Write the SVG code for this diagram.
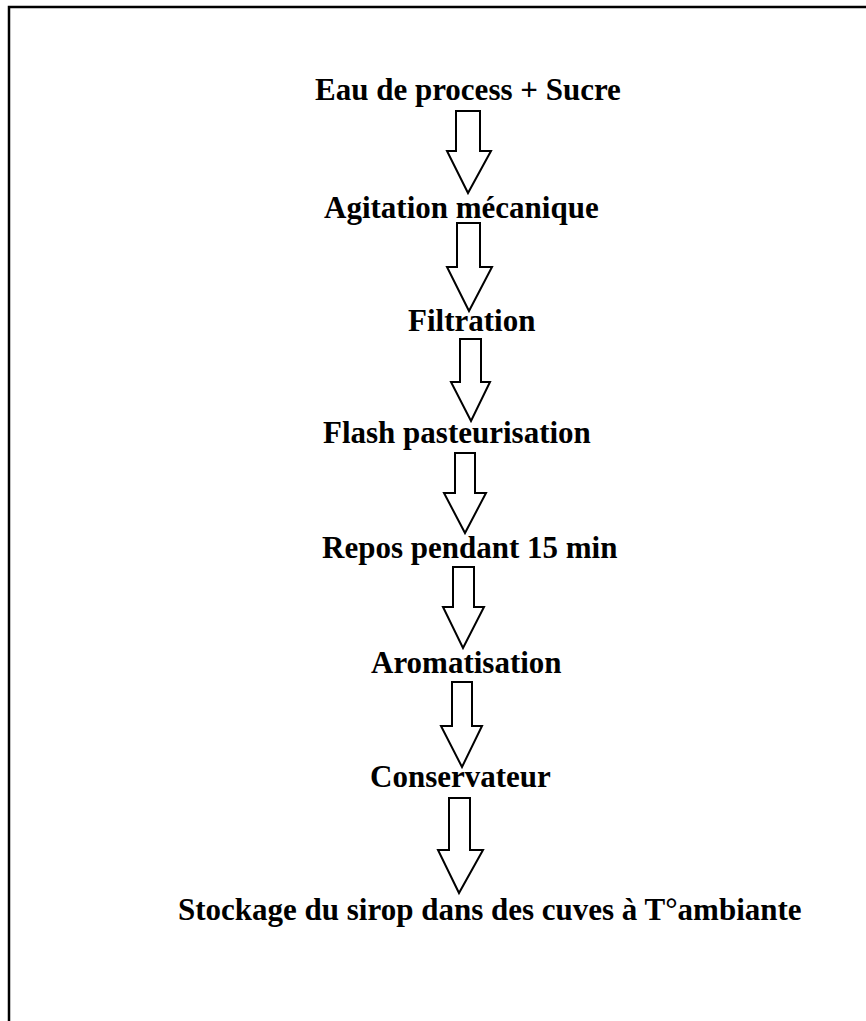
<svg xmlns="http://www.w3.org/2000/svg" width="866" height="1021" viewBox="0 0 866 1021">
<style>
.t{font-family:"Liberation Serif","Times New Roman",serif;font-weight:bold;font-size:31px;fill:#000}
.a{fill:#fff;stroke:#000;stroke-width:2;stroke-linejoin:miter}
.b{stroke:#000;stroke-width:2.5;fill:none}
</style>
<rect width="866" height="1021" fill="#fff"/>
<g id="frame"><path class="b" d="M9,1021 V7 H866"/></g>
<g id="n1"><text class="t" x="315" y="100">Eau de process + Sucre</text></g>
<g id="n2"><text class="t" x="324" y="218">Agitation mécanique</text></g>
<g id="n3"><text class="t" x="408" y="331">Filtration</text></g>
<g id="n4"><text class="t" x="323" y="443">Flash pasteurisation</text></g>
<g id="n5"><text class="t" x="322" y="558">Repos pendant 15 min</text></g>
<g id="n6"><text class="t" x="371" y="673">Aromatisation</text></g>
<g id="n7"><text class="t" x="370" y="787">Conservateur</text></g>
<g id="n8"><text class="t" x="178" y="920">Stockage du sirop dans des cuves à T°ambiante</text></g>
<g id="connectors">
<polygon class="a" points="456,111 480,111 480,151 491,151 468,193 447,151 456,151"/>
<polygon class="a" points="457,223 480,223 480,267 492,267 469,311 447,267 457,267"/>
<polygon class="a" points="460,339 481,339 481,382 490,382 471,421 451,382 460,382"/>
<polygon class="a" points="455,453 475,453 475,493 486,493 465,533 444,493 455,493"/>
<polygon class="a" points="453,567 474,567 474,607 484,607 463,648 443,607 453,607"/>
<polygon class="a" points="452,682 472,682 472,726 482,726 462,767 441,726 452,726"/>
<polygon class="a" points="449,798 470,798 470,850 483,850 459,893 438,850 449,850"/>
</g>
</svg>
